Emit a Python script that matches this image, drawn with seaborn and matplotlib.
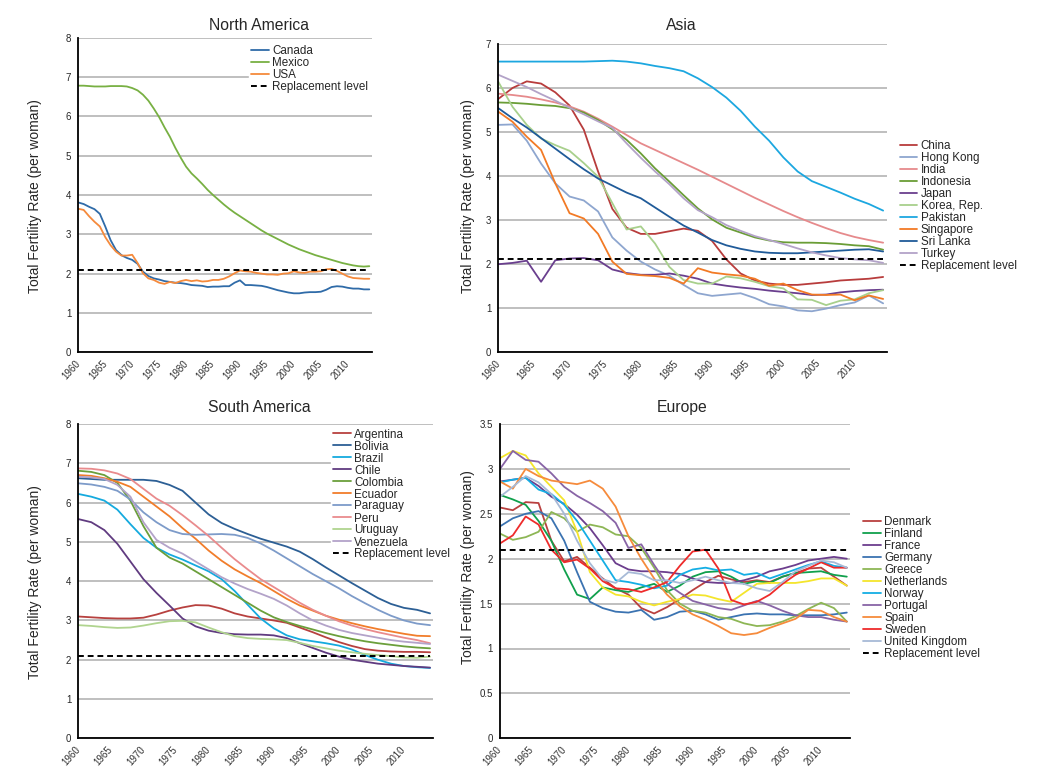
import numpy as np
import pandas as pd
import matplotlib
matplotlib.use("Agg")
import matplotlib.pyplot as plt
from matplotlib.lines import Line2D
import seaborn as sns

sns.set_style("white")
plt.rcParams['font.family'] = ['Liberation Sans', 'DejaVu Sans']

# ---- data (total fertility rate, per woman) ----
years_na = list(range(1960, 2015))
years = list(range(1960, 2015, 2))
replacement = 2.1

canada = [3.81, 3.77, 3.7, 3.64, 3.52, 3.2, 2.85, 2.6, 2.47, 2.4,
          2.35, 2.25, 2.05, 1.94, 1.88, 1.85, 1.81, 1.79, 1.77, 1.76,
          1.74, 1.71, 1.7, 1.69, 1.66, 1.67, 1.67, 1.68, 1.68, 1.77,
          1.83, 1.71, 1.71, 1.7, 1.69, 1.66, 1.62, 1.58, 1.55, 1.52,
          1.5, 1.5, 1.52, 1.53, 1.53, 1.54, 1.59, 1.66, 1.68, 1.67,
          1.64, 1.62, 1.62, 1.6, 1.6]
mexico = [6.78, 6.78, 6.77, 6.76, 6.76, 6.76, 6.77, 6.77, 6.77, 6.76,
          6.72, 6.66, 6.55, 6.4, 6.2, 5.98, 5.72, 5.48, 5.2, 4.95,
          4.72, 4.55, 4.42, 4.28, 4.13, 4.0, 3.88, 3.76, 3.65, 3.55,
          3.46, 3.37, 3.28, 3.19, 3.1, 3.02, 2.95, 2.88, 2.81, 2.74,
          2.68, 2.62, 2.57, 2.52, 2.47, 2.43, 2.39, 2.35, 2.31, 2.27,
          2.24, 2.21, 2.19, 2.18, 2.19]
usa = [3.65, 3.62, 3.46, 3.32, 3.2, 2.93, 2.72, 2.56, 2.46, 2.46,
       2.48, 2.27, 2.01, 1.88, 1.84, 1.77, 1.74, 1.79, 1.76, 1.81,
       1.84, 1.81, 1.83, 1.8, 1.81, 1.84, 1.84, 1.87, 1.93, 2.01,
       2.08, 2.06, 2.05, 2.02, 2.0, 1.98, 1.98, 1.97, 2.0, 2.01,
       2.06, 2.03, 2.02, 2.05, 2.05, 2.06, 2.11, 2.12, 2.07, 2.0,
       1.93, 1.89, 1.88, 1.87, 1.87]

china = [5.75, 6.0, 6.15, 6.1, 5.9, 5.6, 5.05, 4.1, 3.25, 2.82, 2.68, 2.68, 2.74, 2.8,
         2.75, 2.52, 2.1, 1.78, 1.62, 1.55, 1.52, 1.52, 1.55, 1.58, 1.62, 1.64, 1.66, 1.7]
hong_kong = [5.16, 5.17, 4.8, 4.28, 3.83, 3.53, 3.44, 3.19, 2.6, 2.3, 2.05, 1.87, 1.73, 1.52,
             1.33, 1.27, 1.3, 1.33, 1.22, 1.08, 1.03, 0.94, 0.92, 0.98, 1.06, 1.12, 1.28, 1.1]
india = [5.87, 5.84, 5.8, 5.74, 5.67, 5.58, 5.46, 5.3, 5.12, 4.93, 4.74, 4.59, 4.44, 4.29,
         4.14, 3.98, 3.82, 3.66, 3.5, 3.35, 3.2, 3.06, 2.93, 2.81, 2.7, 2.61, 2.54, 2.48]
indonesia = [5.67, 5.66, 5.64, 5.61, 5.59, 5.54, 5.44, 5.27, 5.06, 4.82, 4.51, 4.17, 3.87, 3.56,
             3.26, 3.01, 2.82, 2.71, 2.6, 2.53, 2.49, 2.48, 2.48, 2.47, 2.45, 2.42, 2.4, 2.32]
japan = [1.99, 2.02, 2.07, 1.59, 2.08, 2.12, 2.13, 2.08, 1.87, 1.79, 1.75, 1.75, 1.78, 1.73,
         1.66, 1.55, 1.5, 1.46, 1.43, 1.39, 1.36, 1.33, 1.29, 1.3, 1.35, 1.38, 1.4, 1.41]
korea = [6.14, 5.57, 5.16, 4.85, 4.7, 4.57, 4.29, 3.98, 3.38, 2.78, 2.85, 2.46, 1.93, 1.63,
         1.55, 1.55, 1.71, 1.67, 1.59, 1.49, 1.44, 1.19, 1.18, 1.06, 1.16, 1.19, 1.33, 1.4]
pakistan = [6.6, 6.6, 6.6, 6.6, 6.6, 6.6, 6.6, 6.61, 6.62, 6.6, 6.56, 6.5, 6.45, 6.38,
            6.22, 6.02, 5.78, 5.48, 5.12, 4.8, 4.42, 4.1, 3.88, 3.75, 3.62, 3.48, 3.36, 3.21]
singapore = [5.46, 5.23, 4.89, 4.59, 3.83, 3.15, 3.03, 2.68, 2.05, 1.77, 1.74, 1.72, 1.68, 1.55,
             1.9, 1.8, 1.76, 1.73, 1.66, 1.5, 1.55, 1.4, 1.3, 1.29, 1.3, 1.17, 1.28, 1.2]
sri_lanka = [5.54, 5.31, 5.1, 4.86, 4.62, 4.38, 4.15, 3.94, 3.78, 3.62, 3.49, 3.28, 3.07, 2.87,
             2.71, 2.54, 2.42, 2.34, 2.28, 2.25, 2.24, 2.24, 2.26, 2.28, 2.3, 2.32, 2.33, 2.28]
turkey = [6.3, 6.16, 6.02, 5.86, 5.71, 5.55, 5.4, 5.24, 5.09, 4.74, 4.41, 4.1, 3.81, 3.49,
          3.22, 3.06, 2.88, 2.75, 2.63, 2.54, 2.45, 2.35, 2.26, 2.19, 2.13, 2.1, 2.08, 2.02]

argentina = [3.1, 3.08, 3.06, 3.05, 3.05, 3.07, 3.15, 3.25, 3.33, 3.39, 3.38, 3.3, 3.18, 3.1,
             3.05, 3.0, 2.94, 2.82, 2.7, 2.57, 2.45, 2.35, 2.27, 2.23, 2.21, 2.2, 2.2, 2.19]
bolivia = [6.62, 6.6, 6.58, 6.58, 6.58, 6.58, 6.55, 6.45, 6.3, 6.0, 5.7, 5.48, 5.33, 5.2,
           5.08, 4.98, 4.88, 4.75, 4.56, 4.35, 4.15, 3.95, 3.76, 3.57, 3.42, 3.32, 3.27, 3.18]
brazil = [6.22, 6.15, 6.05, 5.82, 5.45, 5.1, 4.85, 4.68, 4.55, 4.4, 4.25, 4.05, 3.75, 3.4,
          3.05, 2.8, 2.62, 2.52, 2.47, 2.42, 2.36, 2.26, 2.12, 2.0, 1.9, 1.84, 1.81, 1.79]
chile = [5.58, 5.5, 5.3, 4.95, 4.5, 4.05, 3.7, 3.38, 3.05, 2.85, 2.74, 2.68, 2.65, 2.64,
         2.64, 2.62, 2.55, 2.42, 2.3, 2.18, 2.08, 2.0, 1.95, 1.9, 1.87, 1.84, 1.82, 1.8]
colombia = [6.81, 6.78, 6.7, 6.5, 6.05, 5.4, 4.85, 4.6, 4.45, 4.25, 4.05, 3.85, 3.65, 3.45,
            3.25, 3.08, 2.96, 2.86, 2.77, 2.68, 2.6, 2.53, 2.47, 2.42, 2.38, 2.34, 2.31, 2.29]
ecuador = [6.7, 6.68, 6.62, 6.53, 6.4, 6.15, 5.9, 5.65, 5.35, 5.08, 4.78, 4.52, 4.3, 4.12,
           3.95, 3.75, 3.55, 3.38, 3.25, 3.12, 3.02, 2.93, 2.85, 2.78, 2.72, 2.66, 2.61, 2.6]
paraguay = [6.49, 6.46, 6.4, 6.3, 6.08, 5.75, 5.5, 5.3, 5.2, 5.18, 5.19, 5.2, 5.18, 5.1,
            4.96, 4.78, 4.58, 4.38, 4.18, 4.0, 3.82, 3.62, 3.44, 3.27, 3.12, 3.0, 2.92, 2.88]
peru = [6.87, 6.86, 6.82, 6.74, 6.6, 6.35, 6.1, 5.92, 5.68, 5.42, 5.15, 4.85, 4.56, 4.3,
        4.05, 3.85, 3.65, 3.45, 3.27, 3.12, 2.98, 2.87, 2.78, 2.7, 2.63, 2.56, 2.5, 2.42]
uruguay = [2.88, 2.86, 2.83, 2.81, 2.82, 2.87, 2.93, 2.98, 2.99, 2.95, 2.82, 2.7, 2.6, 2.55,
           2.53, 2.52, 2.5, 2.43, 2.35, 2.29, 2.23, 2.19, 2.15, 2.12, 2.09, 2.06, 2.05, 2.08]
venezuela = [6.66, 6.64, 6.6, 6.45, 6.15, 5.5, 5.05, 4.85, 4.7, 4.5, 4.3, 4.1, 3.94, 3.8,
             3.68, 3.55, 3.38, 3.18, 3.0, 2.87, 2.76, 2.68, 2.62, 2.56, 2.5, 2.46, 2.43, 2.4]

denmark = [2.57, 2.54, 2.63, 2.62, 2.2, 1.97, 2.02, 1.9, 1.78, 1.67, 1.6, 1.45, 1.39, 1.46,
           1.55, 1.65, 1.74, 1.81, 1.77, 1.74, 1.76, 1.74, 1.8, 1.84, 1.89, 1.9, 1.8, 1.7]
finland = [2.71, 2.66, 2.6, 2.42, 2.2, 1.88, 1.6, 1.55, 1.68, 1.65, 1.63, 1.68, 1.72, 1.63,
           1.7, 1.8, 1.85, 1.86, 1.8, 1.72, 1.75, 1.73, 1.8, 1.84, 1.85, 1.86, 1.82, 1.8]
france = [2.86, 2.88, 2.9, 2.81, 2.69, 2.61, 2.49, 2.34, 2.15, 1.95, 1.88, 1.86, 1.86, 1.85,
          1.83, 1.78, 1.74, 1.73, 1.73, 1.76, 1.8, 1.86, 1.89, 1.93, 1.98, 2.0, 2.02, 2.0]
germany = [2.36, 2.45, 2.5, 2.53, 2.45, 2.2, 1.85, 1.52, 1.45, 1.41, 1.4, 1.43, 1.32, 1.35,
           1.41, 1.42, 1.38, 1.32, 1.35, 1.38, 1.39, 1.38, 1.38, 1.37, 1.37, 1.37, 1.38, 1.4]
greece = [2.28, 2.21, 2.24, 2.3, 2.52, 2.45, 2.3, 2.38, 2.35, 2.27, 2.25, 2.12, 1.9, 1.65,
          1.5, 1.42, 1.4, 1.35, 1.33, 1.28, 1.25, 1.26, 1.3, 1.36, 1.44, 1.51, 1.45, 1.3]
netherlands = [3.12, 3.2, 3.15, 2.95, 2.8, 2.65, 2.3, 1.85, 1.68, 1.6, 1.58, 1.52, 1.48, 1.52,
               1.55, 1.6, 1.59, 1.55, 1.52, 1.62, 1.72, 1.73, 1.73, 1.73, 1.75, 1.78, 1.78, 1.7]
norway = [2.85, 2.88, 2.9, 2.77, 2.72, 2.6, 2.42, 2.2, 1.98, 1.76, 1.74, 1.71, 1.67, 1.7,
          1.82, 1.88, 1.9, 1.87, 1.88, 1.82, 1.84, 1.78, 1.83, 1.88, 1.93, 1.97, 1.92, 1.9]
portugal = [3.0, 3.2, 3.1, 3.08, 2.95, 2.8, 2.7, 2.62, 2.53, 2.4, 2.12, 2.16, 1.93, 1.72,
            1.62, 1.53, 1.49, 1.45, 1.43, 1.48, 1.53, 1.48, 1.42, 1.37, 1.35, 1.35, 1.32, 1.3]
spain = [2.86, 2.78, 3.0, 2.92, 2.87, 2.85, 2.83, 2.87, 2.78, 2.58, 2.25, 2.0, 1.78, 1.6,
         1.47, 1.38, 1.32, 1.25, 1.17, 1.15, 1.17, 1.23, 1.28, 1.33, 1.43, 1.42, 1.35, 1.3]
sweden = [2.17, 2.26, 2.47, 2.38, 2.1, 1.96, 1.99, 1.89, 1.75, 1.67, 1.66, 1.63, 1.68, 1.74,
          1.92, 2.08, 2.1, 1.89, 1.54, 1.49, 1.52, 1.6, 1.72, 1.82, 1.89, 1.96, 1.9, 1.9]
uk = [2.69, 2.8, 2.92, 2.85, 2.72, 2.5, 2.2, 1.95, 1.77, 1.73, 1.85, 1.83, 1.76, 1.76,
      1.73, 1.76, 1.8, 1.76, 1.73, 1.72, 1.67, 1.64, 1.74, 1.86, 1.92, 1.98, 1.96, 1.9]

north_america = {'Canada': canada, 'Mexico': mexico, 'USA': usa}
asia = {'China': china, 'Hong Kong': hong_kong, 'India': india, 'Indonesia': indonesia,
        'Japan': japan, 'Korea, Rep.': korea, 'Pakistan': pakistan, 'Singapore': singapore,
        'Sri Lanka': sri_lanka, 'Turkey': turkey}
south_america = {'Argentina': argentina, 'Bolivia': bolivia, 'Brazil': brazil, 'Chile': chile,
                 'Colombia': colombia, 'Ecuador': ecuador, 'Paraguay': paraguay, 'Peru': peru,
                 'Uruguay': uruguay, 'Venezuela': venezuela}
europe = {'Denmark': denmark, 'Finland': finland, 'France': france, 'Germany': germany,
          'Greece': greece, 'Netherlands': netherlands, 'Norway': norway, 'Portugal': portugal,
          'Spain': spain, 'Sweden': sweden, 'United Kingdom': uk}

colors_na = ['#2f6ba8', '#78b043', '#f58a3c']
colors_asia = ['#b83c3c', '#8ea6cf', '#e68a8c', '#6a9d36', '#6a3f8e',
               '#a8d08c', '#1ca7e0', '#f27a25', '#205b99', '#b3a3c8']
colors_sa = ['#b7413f', '#2c5f95', '#15aade', '#603b80', '#6b9f3b',
             '#f17d2b', '#7d9bc9', '#e98b8d', '#b0d48f', '#b3a3c9']
colors_eu = ['#b9403f', '#10a04c', '#6c3e8d', '#3b73b1', '#8db655', '#f4e52c',
             '#14aee4', '#8864a6', '#f68b3c', '#ee2b2b', '#a7bad7']


def draw_panel(ax, yrs, series, colors, ymax, ystep, title, title_xy, ylab_xy, leg_xy):
    df = pd.DataFrame([(c, y, v) for c, vals in series.items() for y, v in zip(yrs, vals)],
                      columns=['country', 'year', 'rate'])
    names = list(series.keys())
    sns.lineplot(data=df, x='year', y='rate', hue='country', hue_order=names,
                 palette=colors, linewidth=1.3, errorbar=None, legend=False, ax=ax)
    ax.plot([yrs[0], yrs[-1]], [replacement, replacement], color='black',
            lw=1.4, dashes=(3, 2))

    ax.set_xlim(1960, 2014.5)
    ax.set_ylim(0, ymax)
    ax.set_yticks(np.arange(0, ymax + ystep / 2, ystep))
    ax.set_yticklabels(['{:g}'.format(t) for t in np.arange(0, ymax + ystep / 2, ystep)])
    ticks = list(range(1960, 2015))
    ax.set_xticks(ticks)
    ax.set_xticklabels([str(t) if t % 5 == 0 else '' for t in ticks],
                       rotation=48, ha='right', va='center', rotation_mode='anchor')
    ax.tick_params(axis='x', length=3, width=1, direction='out', labelsize=7,
                   pad=4, color='black', labelcolor='#333333')
    ax.tick_params(axis='y', length=3, width=1, direction='out', labelsize=7,
                   pad=2, color='black')
    ax.yaxis.grid(True, color='#bababa', lw=1.3)
    ax.set_axisbelow(True)
    sns.despine(ax=ax)
    for s in ['left', 'bottom']:
        ax.spines[s].set_color('black')
        ax.spines[s].set_linewidth(1.3)
    ax.set_xlabel('')
    ax.set_ylabel('Total Fertility Rate (per woman)', fontsize=10)
    ax.yaxis.set_label_coords(ylab_xy[0] / W, 1 - ylab_xy[1] / H, transform=fig.transFigure)
    fig.text(title_xy[0] / W, 1 - title_xy[1] / H, title, ha='center', va='center',
             fontsize=11.3)

    handles = [Line2D([], [], color=c, lw=1.3) for c in colors]
    handles.append(Line2D([], [], color='black', lw=1.4, dashes=(3, 2)))
    labels = names + ['Replacement level']
    ax.legend(handles, labels, loc='center left',
              bbox_to_anchor=(leg_xy[0] / W, 1 - leg_xy[1] / H), bbox_transform=fig.transFigure,
              frameon=True, fancybox=False, facecolor='white', edgecolor='white', framealpha=1,
              borderpad=0.2, borderaxespad=0, fontsize=8.4, labelspacing=0,
              handlelength=1.5, handletextpad=0.3)


W, H = 1047, 783
fig = plt.figure(figsize=(W / 100, H / 100), dpi=100)

def box(l, r, t, b):
    return [l / W, 1 - b / H, (r - l) / W, (b - t) / H]

ax1 = fig.add_axes(box(78.3, 372, 37.7, 352.3))
ax2 = fig.add_axes(box(498.3, 886.7, 44, 351.7))
ax3 = fig.add_axes(box(78.3, 433.3, 424, 738.3))
ax4 = fig.add_axes(box(500, 850, 424, 738.3))

draw_panel(ax1, years_na, north_america, colors_na, 8, 1, 'North America',
           (259, 25), (42.5, 196), (249, 69))
draw_panel(ax2, years, asia, colors_asia, 7, 1, 'Asia',
           (681.7, 25), (475, 196), (897.5, 206))
draw_panel(ax3, years, south_america, colors_sa, 8, 1, 'South America',
           (259, 407.3), (42.5, 581.7), (331, 494.5))
draw_panel(ax4, years, europe, colors_eu, 3.5, 0.5, 'Europe',
           (682.3, 407.3), (475, 567.5), (861, 588))

fig.savefig('out.png', dpi=100)
